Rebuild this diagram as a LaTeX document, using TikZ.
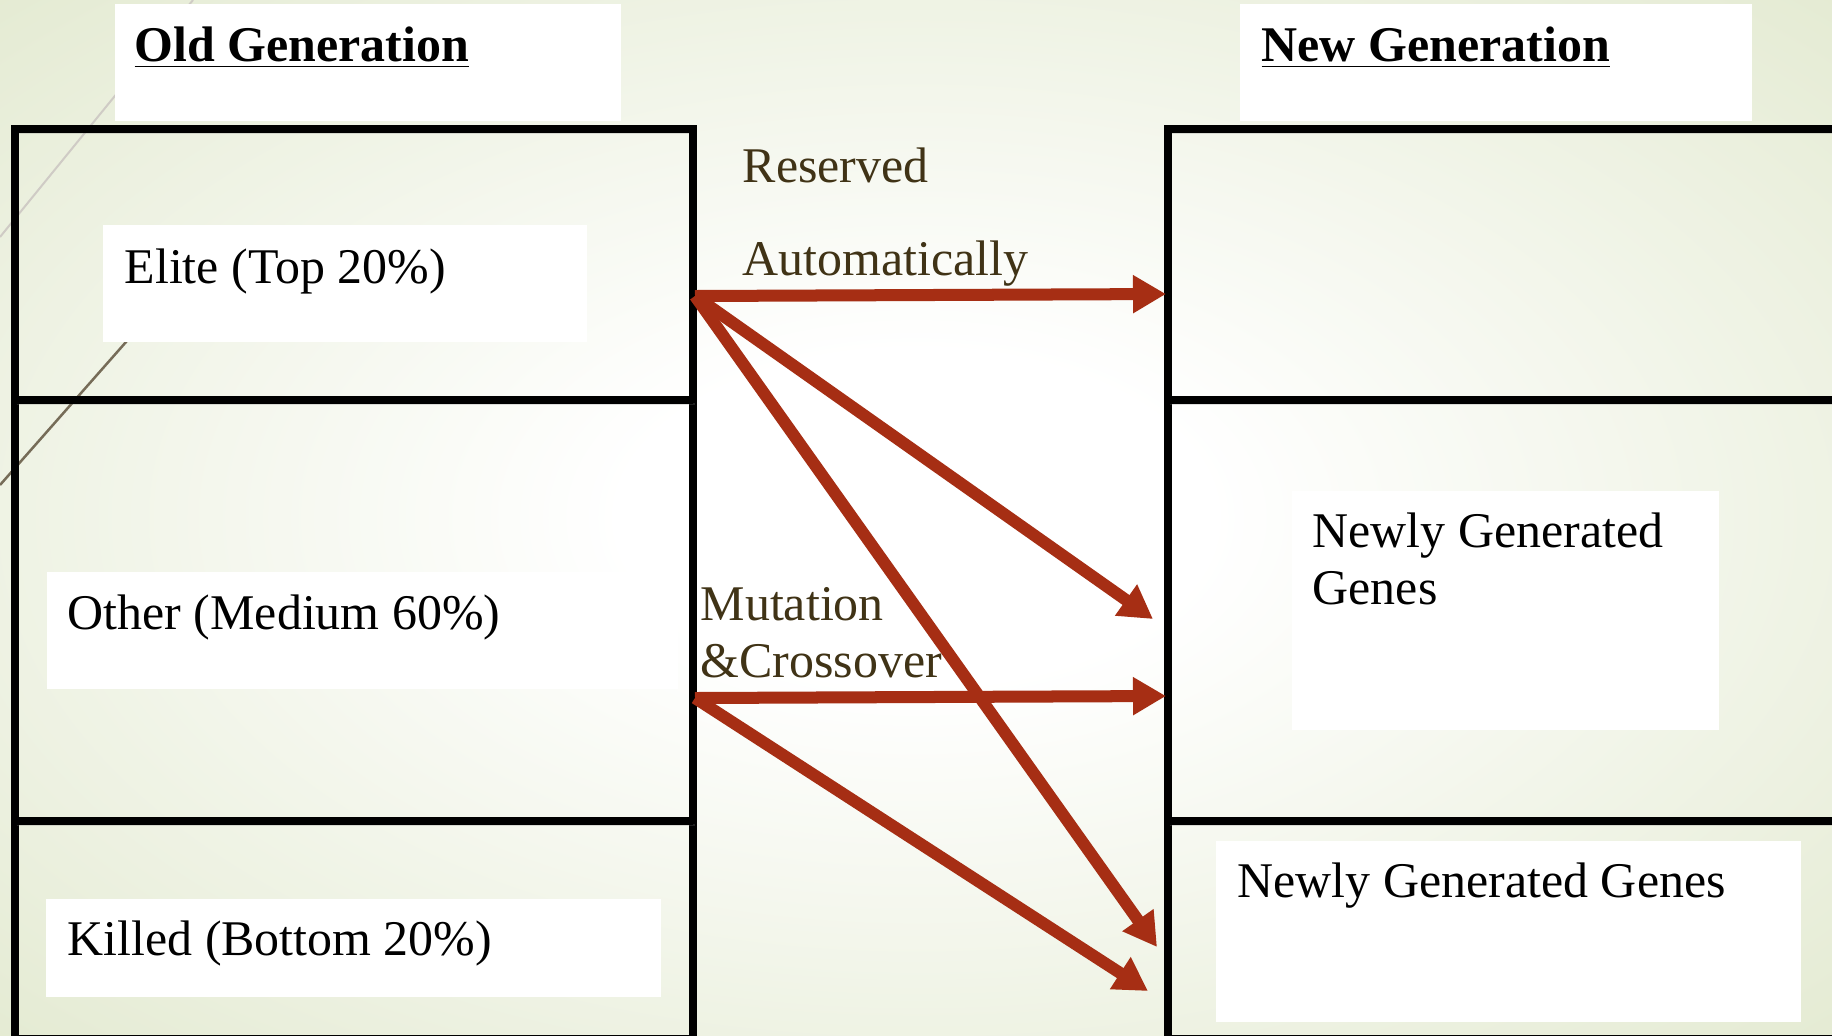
\documentclass[tikz,border=0pt]{standalone}
\usepackage{fontspec}
\setmainfont{Liberation Serif}
\usetikzlibrary{arrows.meta}
\definecolor{bggreen}{RGB}{226,233,207}
\definecolor{arrowred}{RGB}{166,46,20}
\definecolor{labelbrown}{RGB}{64,51,22}
\definecolor{themeline}{RGB}{118,108,88}
\pgfdeclareradialshading{slidebg}{\pgfpoint{0bp}{0bp}}{%
  color(0bp)=(white); color(8bp)=(white);
  color(38bp)=(bggreen); color(50bp)=(bggreen)}

\begin{document}
\begin{tikzpicture}[x=0.01cm,y=-0.01cm,
    frame/.style={line width=0.075cm,black,
                  preaction={draw,black!50,opacity=0.25,
                             transform canvas={shift={(2,4)}}}},
    whitebox/.style={fill=white},
    txt/.style={anchor=base west,inner sep=0pt,align=left,
                font=\fontsize{14.2}{16.2}\selectfont},
    lbl/.style={txt,text=labelbrown},
    flow/.style={line width=0.12cm,arrowred,
                 -{Triangle[length=0.33cm,width=0.36cm]}}]

  \useasboundingbox (0,0) rectangle (1832,1035);
  \shade[shading=slidebg] (0,0) rectangle (1832,1035);

  % theme lines, top left
  \draw[themeline!35,line width=0.02cm] (0,237) -- (193,0);
  \draw[themeline,line width=0.025cm] (0,485) -- (200,258);

  % white text panels
  \fill[whitebox] (115,4) rectangle (621,121);
  \fill[whitebox] (1240,4) rectangle (1752,121);
  \fill[whitebox] (103,225) rectangle (587,342);
  \fill[whitebox] (47,572) rectangle (678,689);
  \fill[whitebox] (46,899) rectangle (661,997);
  \fill[whitebox] (1292,491) rectangle (1719,730);
  \fill[whitebox] (1216,841) rectangle (1801,1022);

  % old and new generation frames
  \draw[frame] (15,129) rectangle (693,1039);
  \draw[frame] (15,400) -- (693,400);
  \draw[frame] (15,821) -- (693,821);
  \draw[frame] (1168,129) rectangle (1840,1039);
  \draw[frame] (1168,400) -- (1840,400);
  \draw[frame] (1168,821) -- (1840,821);

  \node[txt,font=\fontsize{14.2}{16.2}\selectfont\bfseries] (oldhead) at (134,61)
    {\underline{Old Generation}};
  \node[txt,font=\fontsize{14.2}{16.2}\selectfont\bfseries] (newhead) at (1261,61)
    {\underline{New Generation}};

  \node[txt] (elite) at (124,283) {Elite (Top 20\%)};
  \node[txt] (other) at (67,629) {Other (Medium 60\%)};
  \node[txt] (killed) at (67,955) {Killed (Bottom 20\%)};
  \node[txt] (newmid) at (1312,604) {Newly Generated\\Genes};
  \node[txt] (newlow) at (1237,897) {Newly Generated Genes};

  \node[lbl,font=\fontsize{14.2}{26.2}\selectfont] (reserved) at (742,275)
    {Reserved\\Automatically};
  \node[lbl] (mutation) at (700,677) {Mutation\\\&Crossover};

  % arrow ends
  \coordinate (eliteout) at (695,296);
  \coordinate (otherout) at (695,698);
  \coordinate (keeptip) at (1166,294);
  \coordinate (midtip) at (1153,619);
  \coordinate (lowtipa) at (1157,947);
  \coordinate (sidetip) at (1166,696);
  \coordinate (lowtipb) at (1148,991);

  \draw[flow] (eliteout) -- (keeptip);
  \draw[flow] (eliteout) -- (midtip);
  \draw[flow] (eliteout) -- (lowtipa);
  \draw[flow] (otherout) -- (sidetip);
  \draw[flow] (otherout) -- (lowtipb);
\end{tikzpicture}
\end{document}
